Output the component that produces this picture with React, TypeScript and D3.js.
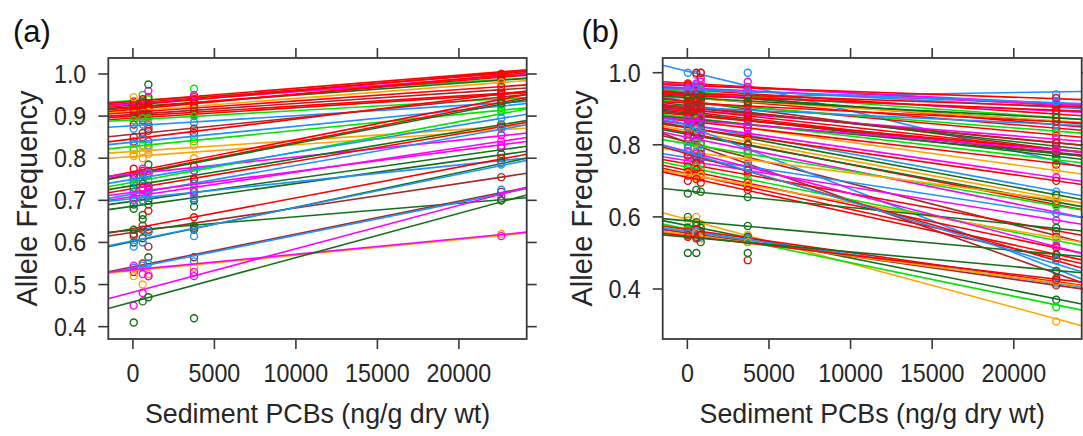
import React from 'react';
import * as d3 from 'd3';

// ---------- data ----------
const xTicks = [0, 5000, 10000, 15000, 20000];
const yTicksA = [0.4, 0.5, 0.6, 0.7, 0.8, 0.9, 1.0];
const yTicksB = [0.4, 0.6, 0.8, 1.0];
const xDomain = [-1510, 24160];
const yDomainA = [0.3707, 1.038];
const yDomainB = [0.2613, 1.0408];

const sitesA = [50, 600, 950, 3750, 22600];
const sitesB = [30, 550, 820, 3700, 22600];

const palette: Record<string, string> = {
  R: '#FF0000', G: '#00E600', D: '#12701A', B: '#1E90FF', M: '#FF00FF', O: '#FFA500', N: '#A52A2A',
};

// Panel (a): one fitted line per locus (intercept at 0 ng/g, slope per 10000 ng/g)
const colorsA = ['G','R','R','M','R','D','R','R','O','R','N','R','R','G','B','N','R','B','G','O','O','R','R','D','M','G','D','B','R','B','M','D','D','B','M','R','N','D','D','B','N','B','O','M','M','D'];
const interceptsA = [.937,.935,.931,.929,.926,.922,.920,.916,.912,.909,.904,.900,.895,.891,.877,.857,.846,.838,.828,.816,.804,.768,.763,.761,.763,.743,.735,.750,.728,.715,.709,.698,.686,.704,.719,.633,.624,.629,.602,.604,.542,.539,.533,.535,.482,.459];
const slopesA = [.022,.031,.031,.029,.034,.028,.032,.036,.030,.027,.026,.024,.025,.022,.024,.039,.047,.038,.038,.026,.028,.076,.075,.074,.040,.072,.064,.064,.065,.068,.058,.054,.054,.040,.050,.073,.058,.032,.082,.079,.078,.078,.037,.037,.103,.105];
const pointsA = [
  [.93,.95,.94,.965,.985],[.92,.94,.945,.93,1.0],[.935,.93,.93,.945,.998],[.92,.915,.96,.95,.995],
  [.91,.93,.925,.94,1.0],[.93,.935,.975,.92,.985],[.925,.91,.92,.93,.99],[.905,.92,.92,.915,.995],
  [.945,.90,.91,.91,.98],[.90,.915,.905,.92,.97],[.89,.905,.90,.91,.96],[.915,.89,.88,.905,.955],
  [.88,.90,.87,.90,.95],[.89,.895,.895,.90,.94],[.87,.88,.875,.885,.93],[.85,.86,.865,.87,.945],
  [.84,.85,.84,.86,.955],[.835,.845,.83,.85,.92],[.82,.83,.825,.84,.915],[.81,.815,.82,.83,.875],
  [.805,.80,.81,.80,.87],[.775,.765,.77,.75,.94],[.76,.77,.76,.78,.935],[.755,.76,.785,.77,.93],
  [.75,.775,.765,.77,.855],[.74,.75,.745,.73,.91],[.73,.74,.735,.72,.88],[.745,.75,.765,.74,.895],
  [.72,.73,.725,.75,.875],[.72,.71,.73,.70,.87],[.70,.71,.72,.71,.84],[.69,.70,.70,.685,.825],
  [.68,.665,.69,.70,.81],[.70,.70,.71,.705,.79],[.705,.725,.73,.72,.83],[.62,.64,.675,.66,.80],
  [.615,.63,.63,.635,.755],[.63,.655,.625,.64,.70],[.60,.61,.565,.63,.79],[.59,.60,.625,.615,.785],
  [.53,.55,.59,.565,.72],[.54,.545,.55,.555,.725],[.52,.50,.525,.54,.62],[.545,.525,.52,.53,.615],
  [.45,.48,.52,.52,.71],[.41,.46,.47,.42,.70],
];

// Panel (b)
const colorsB = ['B','B','R','M','R','B','R','G','R','D','M','R','O','N','R','G','D','R','B','M','R','D','N','R','G','O','R','B','M','D','R','O','R','D','N','N','B','M','G','O','B','M','R','G','R','R','O','R','D','M','R','O','D','D','G','R','B','N','O','R','D','B','M','R','B','R','D','R','N','R','D','M'];
const interceptsB = [1.004,.931,.971,.967,.964,.958,.953,.948,.944,.941,.939,.932,.930,.921,.920,.917,.909,.905,.904,.897,.892,.888,.885,.882,.876,.869,.866,.857,.856,.849,.847,.839,.833,.829,.807,.808,.853,.821,.803,.781,.765,.756,.747,.738,.729,.720,.718,.710,.672,.782,.775,.593,.589,.576,.566,.565,.560,.555,.551,.547,.544,.779,.957,.943,.953,.937,.931,.916,.903,.898,.873,.869];
const slopesB = [-.110,.007,-.027,-.023,-.016,-.024,-.030,-.032,-.039,-.034,-.020,-.038,-.028,-.059,-.041,-.035,-.050,-.044,-.021,-.036,-.051,-.053,-.047,-.042,-.052,-.062,-.052,-.082,-.065,-.083,-.065,-.083,-.088,-.083,-.161,-.115,-.176,-.092,-.076,-.059,-.069,-.073,-.082,-.090,-.095,-.099,-.078,-.099,-.046,-.117,-.131,-.122,-.041,-.090,-.093,-.064,-.064,-.064,-.059,-.053,-.041,-.137,-.020,-.016,-.016,-.018,-.025,-.023,-.043,-.049,-.043,-.037];
const pointsB = [
  [1.0,.995,1.0,1.0,.76],[.93,.935,.92,.94,.94],[.97,1.0,.985,.96,.91],[.96,.97,.975,.975,.915],
  [.965,.96,1.0,.95,.93],[.955,.965,.96,.95,.905],[.945,.95,.96,.945,.885],[.95,.94,.955,.935,.875],
  [.94,.945,.93,.935,.855],[.935,.95,.945,.93,.865],[.94,.935,.93,.93,.895],[.93,.925,.935,.92,.845],
  [.925,.935,.92,.925,.865],[.92,.915,.925,.90,.79],[.915,.92,.925,.905,.825],[.91,.92,.915,.905,.835],
  [.905,.91,.90,.89,.795],[.90,.91,.895,.89,.805],[.90,.905,.91,.895,.855],[.89,.90,.895,.885,.815],
  [.895,.885,.89,.87,.775],[.885,.89,.88,.87,.765],[.88,.885,.875,.87,.78],[.875,.88,.885,.865,.785],
  [.87,.875,.88,.855,.755],[.865,.87,.86,.845,.73],[.86,.865,.87,.845,.745],[.85,.86,.855,.825,.67],
  [.855,.85,.86,.83,.71],[.845,.85,.84,.82,.66],[.84,.85,.845,.82,.70],[.835,.84,.83,.81,.65],
  [.83,.835,.825,.80,.635],[.82,.83,.825,.80,.64],[.80,.81,.79,.75,.43],[.81,.80,.805,.765,.545],
  [.85,.845,.84,.78,.45],[.82,.815,.825,.785,.61],[.80,.805,.80,.775,.63],[.78,.785,.77,.76,.65],
  [.77,.76,.765,.74,.61],[.755,.75,.76,.73,.59],[.74,.75,.745,.72,.56],[.735,.74,.73,.705,.535],
  [.725,.73,.72,.695,.515],[.715,.72,.71,.685,.495],[.72,.71,.715,.69,.54],[.70,.705,.695,.675,.485],
  [.665,.675,.67,.655,.57],[.78,.775,.785,.74,.52],[.77,.765,.775,.73,.48],[.59,.60,.58,.55,.31],
  [.60,.585,.57,.575,.495],[.57,.575,.56,.545,.37],[.565,.56,.555,.535,.35],[.56,.565,.55,.54,.42],
  [.555,.56,.545,.54,.415],[.55,.545,.555,.53,.41],[.545,.555,.54,.53,.42],[.545,.54,.55,.48,.425],
  [.50,.50,.53,.50,.45],[.79,.78,.785,.74,.48],[.955,.96,.965,.95,.915],[.94,.945,.94,.935,.905],
  [.95,.955,.95,.945,.92],[.935,.94,.93,.93,.895],[.93,.925,.935,.92,.875],[.915,.92,.91,.91,.865],
  [.90,.905,.90,.89,.805],[.895,.90,.89,.88,.785],[.87,.875,.865,.855,.775],[.87,.865,.875,.855,.785],
];

// ---------- drawing ----------
const FONT = '"Liberation Sans", Arial, sans-serif';
const TOP = 58;
const BOTTOM = 339;
const AXIS = '#3a3a3a';
const TEXT = '#262626';

type PanelProps = {
  id: string; left: number; right: number; label: string; labelX: number;
  yDomain: number[]; yTicks: number[]; sites: number[]; colors: string[];
  intercepts: number[]; slopes: number[]; points: number[][];
};

function Panel(p: PanelProps) {
  const x = d3.scaleLinear().domain(xDomain).range([p.left, p.right]);
  const y = d3.scaleLinear().domain(p.yDomain).range([BOTTOM, TOP]);
  const [x0, x1] = xDomain;
  const fmtY = d3.format('.1f');
  const line = d3.line<[number, number]>().x(d => x(d[0])).y(d => y(d[1]));
  const cx = (p.left + p.right) / 2;
  const cy = (TOP + BOTTOM) / 2;
  return (
    <g>
      <defs>
        <clipPath id={`clip-${p.id}`}>
          <rect x={p.left} y={TOP} width={p.right - p.left} height={BOTTOM - TOP} />
        </clipPath>
      </defs>
      <g clipPath={`url(#clip-${p.id})`}>
        {p.colors.map((c, i) => {
          const col = palette[c];
          const f = (v: number) => p.intercepts[i] + p.slopes[i] * v / 10000;
          return (
            <g key={i}>
              {p.points[i].map((v, j) => (
                <circle key={j} cx={x(p.sites[j])} cy={y(v)} r={3.5} fill="none" stroke={col} strokeWidth={1.4} />
              ))}
              <path d={line([[x0, f(x0)], [x1, f(x1)]]) || ''} stroke={col} strokeWidth={1.6} fill="none" />
            </g>
          );
        })}
      </g>
      <rect x={p.left} y={TOP} width={p.right - p.left} height={BOTTOM - TOP} fill="none" stroke={AXIS} strokeWidth={1.8} />
      {xTicks.map(t => (
        <g key={t}>
          <line x1={x(t)} x2={x(t)} y1={TOP} y2={TOP - 10} stroke={AXIS} strokeWidth={1.6} />
          <line x1={x(t)} x2={x(t)} y1={BOTTOM} y2={BOTTOM + 10} stroke={AXIS} strokeWidth={1.6} />
          <text transform={`translate(${x(t)},382) scale(0.93,1)`} textAnchor="middle" fontSize={25} fontFamily={FONT} fill={TEXT}>{t}</text>
        </g>
      ))}
      {p.yTicks.map(t => (
        <g key={t}>
          <line x1={p.left} x2={p.left - 10} y1={y(t)} y2={y(t)} stroke={AXIS} strokeWidth={1.6} />
          <line x1={p.right} x2={p.right + 10} y1={y(t)} y2={y(t)} stroke={AXIS} strokeWidth={1.6} />
          <text transform={`translate(${p.left - 22},${y(t) + 9}) scale(0.93,1)`} textAnchor="end" fontSize={25} fontFamily={FONT} fill={TEXT}>{fmtY(t)}</text>
        </g>
      ))}
      <text transform={`translate(${cx},423) scale(0.94,1)`} textAnchor="middle" fontSize={28.5} fontFamily={FONT} fill={TEXT}>Sediment PCBs (ng/g dry wt)</text>
      <text transform={`translate(${p.left - 71},${cy}) rotate(-90)`} textAnchor="middle" fontSize={29} fontFamily={FONT} fill={TEXT}>Allele Frequency</text>
      <text x={p.labelX} y={42} fontSize={31} fontFamily={FONT} fill="#111">{p.label}</text>
    </g>
  );
}

export default function App() {
  return (
    <svg width={1083} height={436} style={{ position: 'absolute', left: 0, top: 0, background: '#fff' }}>
      <rect x={0} y={0} width={1083} height={436} fill="#fff" />
      <Panel id="a" left={108.3} right={526.7} label="(a)" labelX={13} yDomain={yDomainA} yTicks={yTicksA}
        sites={sitesA} colors={colorsA} intercepts={interceptsA} slopes={slopesA} points={pointsA} />
      <Panel id="b" left={662.7} right={1081.7} label="(b)" labelX={581.5} yDomain={yDomainB} yTicks={yTicksB}
        sites={sitesB} colors={colorsB} intercepts={interceptsB} slopes={slopesB} points={pointsB} />
    </svg>
  );
}
